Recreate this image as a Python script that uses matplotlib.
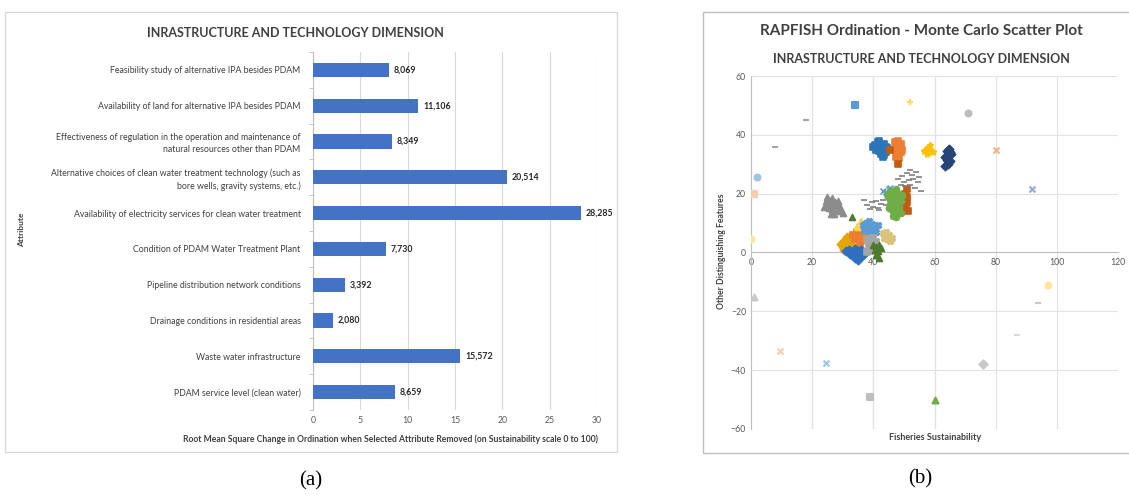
import numpy as np
import matplotlib.pyplot as plt
from matplotlib.patches import Rectangle

plt.rcParams['font.family'] = ['Lato', 'DejaVu Sans']

W, H = 1129, 496

# ---- panel (a) data ----
attributes = [
    "Feasibility study of alternative IPA besides PDAM",
    "Availability of land for alternative IPA besides PDAM",
    "Effectiveness of regulation in the operation and maintenance of\nnatural resources other than PDAM",
    "Alternative choices of clean water treatment technology (such as\nbore wells, gravity systems, etc.)",
    "Availability of electricity services for clean water treatment",
    "Condition of PDAM Water Treatment Plant",
    "Pipeline distribution network conditions",
    "Drainage conditions in residential areas",
    "Waste water infrastructure",
    "PDAM service level (clean water)",
]
rms_change = [8.069, 11.106, 8.349, 20.514, 28.285, 7.730, 3.392, 2.080, 15.572, 8.659]

# ---- panel (b) data: clusters of Monte Carlo runs ----
blue_top_x = [40.5, 41.5, 42.5, 43.5, 44.5, 41, 42, 43, 44, 42.5, 43.5, 43, 44, 42, 41, 40]
blue_top_y = [36.5, 37.5, 36, 37, 35.5, 35, 34.5, 35.5, 34, 33.5, 33, 32.5, 36, 38, 36.2, 35.8]
orange_top_x = [47, 48, 49, 48.5, 47.5, 48, 49.5, 48, 47.5, 48.5, 49, 48, 47]
orange_top_y = [37.5, 38, 37, 36, 35.5, 34.5, 35, 33.5, 32.5, 32, 34, 36.8, 35]
brown_sq_x = [45.6, 48, 51, 50.5, 51, 50.5, 51, 50.5, 50.8, 51.2]
brown_sq_y = [35, 30, 21.5, 20, 19, 18, 17, 16, 15, 14]
gold_top_x = [57, 58, 59, 58, 57.5, 58.5, 59.5, 56.5, 58]
gold_top_y = [35, 36, 35, 34, 33.5, 36.5, 34, 34.5, 35.2]
navy_x = [64, 65, 64.5, 63.5, 64, 65, 64.5, 63.5, 64, 65.5, 64.8]
navy_y = [34.5, 34, 33, 32.5, 31.5, 31, 30, 29.5, 32, 33.5, 35.2]
dash_right_x = [48, 49.5, 51, 52.5, 54, 50, 51.5, 53, 55, 49, 52, 54.5, 50.5, 53.5, 55.5, 52]
dash_right_y = [25, 26, 27, 26.5, 27.5, 24, 24.5, 25, 25.5, 23, 23, 24, 22.5, 22, 21, 28]
dash_left_x = [38, 39.5, 41, 42.5, 40, 41.5, 43, 39, 42, 44, 37]
dash_left_y = [16, 17, 17.5, 16.5, 15.5, 15, 18, 14.8, 14.5, 16, 17.8]
ltblue_top_x = [43, 44, 45, 46, 44.5, 45.5]
ltblue_top_y = [21, 20.5, 21.5, 20, 19.5, 22]
green_x = [44.5, 45.5, 46.5, 47.5, 48.5, 49.5, 45, 46, 47, 48, 49, 45.5, 46.5,
           47.5, 48.5, 46, 47, 48, 46.5, 47.5, 45, 49]
green_y = [20, 21, 20.5, 21.5, 20, 19.5, 18.5, 18, 18.8, 18.2, 17.5, 16.5, 16,
           16.8, 15.5, 14.5, 14, 14.8, 12.5, 12, 15, 13.5]
gray_left_x = [24.5, 25.5, 26.5, 27.5, 28.5, 25, 26, 27, 28, 29, 24, 25.5, 26.5,
               27.5, 28.5, 26, 27, 29.5, 25, 30]
gray_left_y = [17.5, 18, 18.5, 17, 17.5, 16.5, 16, 16.8, 16, 15.5, 15.5, 15, 14.5,
               14, 14.8, 13.2, 13, 14, 18.8, 13.5]
gold_low_x = [29.5, 30.5, 31.5, 32.5, 30, 31, 32, 33, 31.5, 30.5]
gold_low_y = [3, 4, 4.5, 3.5, 2, 2.5, 1.5, 2.5, 5.2, 1]
orange_low_x = [33.5, 34.5, 35.5, 36.5, 34, 35, 36, 37, 35.5]
orange_low_y = [6, 7, 6.5, 7.5, 4.5, 5, 4, 5.5, 3]
yellow_low_x = [34.5, 35.5, 36.5, 35, 36]
yellow_low_y = [9, 10, 9.5, 8.5, 10.8]
ltblue_low_x = [36.5, 37.5, 38.5, 39.5, 40.5, 41.5, 37, 38, 39, 40, 41, 38.5]
ltblue_low_y = [9.5, 10, 9, 9.8, 8.5, 9.2, 7.5, 8, 7, 7.8, 6.8, 10.8]
blue_low_x = [31, 32, 33, 34, 35, 36, 37, 32.5, 33.5, 34.5, 35.5, 36.5, 34, 35]
blue_low_y = [0.5, 1, 0, 1.2, 0.5, 1, 0, -0.5, -1, -0.5, -1.5, -1, -2, -2.4]
gray_low_x = [38, 39, 40, 41, 38.5, 39.5, 40.5, 39, 40, 38, 41]
gray_low_y = [4.5, 4, 4.8, 3.5, 3, 2.5, 2, 1, 0.5, 0, 1.5]
green_low_x = [40, 41, 42, 40.5, 41.5, 42.5, 41, 42, 33]
green_low_y = [2.5, 2, 2.7, 1, 0.5, 1.5, -1, -2, 12.2]
tan_low_x = [43, 44, 45, 46, 43.5, 44.5, 45.5]
tan_low_y = [6.5, 7, 6, 5, 5, 4.5, 4]

# reference / anchor points
anchor_x = [34, 52, 71, 18, 8, 2, 1, 0, 80, 92, 1, 9.5, 24.5, 39, 60, 76, 87, 94, 97]
anchor_y = [50, 51, 47.5, 45, 36, 25.5, 20, 4.5, 35, 21.5, -15, -33.5, -37.5, -49, -50, -38, -28, -17, -11]

cluster_style = [
    (blue_top_x, blue_top_y, '#2E75B6', 's'),
    (orange_top_x, orange_top_y, '#ED7D31', 's'),
    (brown_sq_x, brown_sq_y, '#C55A11', 's'),
    (gold_top_x, gold_top_y, '#FFC000', '*'),
    (navy_x, navy_y, '#264478', 'D'),
    (dash_right_x, dash_right_y, '#7F7F7F', '_'),
    (dash_left_x, dash_left_y, '#7F7F7F', '_'),
    (gray_left_x, gray_left_y, '#8C8C8C', '^'),
    (ltblue_top_x, ltblue_top_y, '#5B9BD5', 'x'),
    (green_x, green_y, '#70AD47', 'o'),
    (gold_low_x, gold_low_y, '#E0A800', 'D'),
    (orange_low_x, orange_low_y, '#ED7D31', 's'),
    (yellow_low_x, yellow_low_y, '#FFD54F', '^'),
    (ltblue_low_x, ltblue_low_y, '#5B9BD5', 'X'),
    (blue_low_x, blue_low_y, '#2F6FC0', 'D'),
    (gray_low_x, gray_low_y, '#A5A5A5', 's'),
    (green_low_x, green_low_y, '#4E7A30', '^'),
    (tan_low_x, tan_low_y, '#D9C27A', 'X'),
]
anchor_style = [('#5B9BD5', 's'), ('#FFD966', '+'), ('#BDBDBD', 'o'), ('#A5A5A5', '_'),
                ('#A5A5A5', '_'), ('#9DC3E6', 'o'), ('#F8CBAD', 's'), ('#FFE699', 'o'),
                ('#F4B183', 'x'), ('#8FAADC', 'x'), ('#C9C9C9', '^'), ('#F8CBAD', 'x'),
                ('#9DC3E6', 'x'), ('#BFBFBF', 's'), ('#70AD47', '^'), ('#C9C9C9', 'D'),
                ('#D9D9D9', '_'), ('#C9C9C9', '_'), ('#FFE699', 'o')]

fig = plt.figure(figsize=(W / 100, H / 100), dpi=100)

# panel frames
fig.patches.append(Rectangle((5 / W, 1 - 452 / H), 612 / W, 440 / H, transform=fig.transFigure,
                             fill=False, edgecolor='#D9D9D9', lw=1))
fig.patches.append(Rectangle((703 / W, 1 - 453 / H), 430 / W, 441 / H, transform=fig.transFigure,
                             fill=False, edgecolor='#BFBFBF', lw=1))

# ---------------- (a) bar chart ----------------
ax1 = fig.add_axes([313 / W, 1 - 410 / H, 284 / W, 358 / H])
ypos = np.arange(len(attributes))
ax1.barh(ypos, rms_change, height=0.4, color='#4472C4', zorder=3)
for y, v in zip(ypos, rms_change):
    ax1.text(v + 0.5, y, f"{v:.3f}".replace('.', ','), va='center', ha='left',
             fontsize=6.3, fontweight='bold', color='#262626')
ax1.set_ylim(len(attributes) - 0.5, -0.5)
ax1.set_xlim(0, 30)
ax1.set_xticks(range(0, 31, 5))
ax1.set_yticks(ypos)
ax1.set_yticklabels(attributes, fontsize=6.3, color='#404040')
ax1.set_yticks(np.arange(-0.5, len(attributes), 1), minor=True)
ax1.tick_params(axis='y', which='major', length=0, pad=9)
ax1.tick_params(axis='y', which='minor', length=3, color='#BFBFBF')
ax1.tick_params(axis='x', length=0, labelsize=6.3, labelcolor='#595959', pad=4)
for lab in ax1.get_yticklabels():
    lab.set_linespacing(1.4)
ax1.grid(axis='x', color='#D9D9D9', lw=0.8, zorder=0)
for s in ['top', 'right', 'bottom']:
    ax1.spines[s].set_visible(False)
ax1.spines['left'].set_color('#BFBFBF')

fig.text(295 / W, 1 - 33 / H, "INRASTRUCTURE AND TECHNOLOGY DIMENSION", ha='center', va='center',
         fontsize=9, fontweight='bold', color='#404040')
fig.text(22 / W, 1 - 230 / H, "Attribute", rotation=90, ha='center', va='center',
         fontsize=6, fontweight='bold', color='#404040')
fig.text(598 / W, 1 - 439 / H,
         "Root Mean Square Change in Ordination when Selected Attribute Removed (on Sustainability scale 0 to 100)",
         ha='right', va='center', fontsize=6.2, fontweight='bold', color='#404040')
fig.text(311 / W, 1 - 481 / H, "(a)", ha='center', va='center', fontsize=15,
         family='Liberation Serif')

# ---------------- (b) scatter ----------------
ax2 = fig.add_axes([751 / W, 1 - 429 / H, 367 / W, 353 / H])
ax2.set_xlim(0, 120)
ax2.set_ylim(-60, 60)
ax2.set_xticks(range(0, 121, 20))
ax2.set_yticks(range(-60, 61, 20))
ax2.grid(True, color='#E3E3E3', lw=0.8, zorder=0)
for gx in [20, 40, 60]:
    ax2.axvline(gx, color='#C4C4C4', lw=0.8, zorder=0)
for s in ['top', 'right']:
    ax2.spines[s].set_visible(False)
ax2.spines['bottom'].set_position(('data', 0))
ax2.spines['bottom'].set_color('#BFBFBF')
ax2.spines['left'].set_color('#BFBFBF')
ax2.tick_params(length=0, labelsize=6.3, labelcolor='#595959')
ax2.tick_params(axis='x', pad=4)

for xs, ys, c, m in cluster_style:
    ax2.scatter(xs, ys, s=18, color=c, marker=m, lw=1.2, zorder=3)
for x, y, (c, m) in zip(anchor_x, anchor_y, anchor_style):
    ax2.scatter([x], [y], s=18, color=c, marker=m, lw=1.5, zorder=3)

fig.text(921 / W, 1 - 31 / H, "RAPFISH Ordination - Monte Carlo Scatter Plot", ha='center', va='center',
         fontsize=11, fontweight='bold', color='#404040')
fig.text(921 / W, 1 - 59 / H, "INRASTRUCTURE AND TECHNOLOGY DIMENSION", ha='center', va='center',
         fontsize=9, fontweight='bold', color='#404040')
fig.text(721 / W, 1 - 251 / H, "Other Distinguishing Features", rotation=90, ha='center', va='center',
         fontsize=6.2, fontweight='bold', color='#404040')
fig.text(935 / W, 1 - 437 / H, "Fisheries Sustainability", ha='center', va='center',
         fontsize=6.5, fontweight='bold', color='#404040')
fig.text(920 / W, 1 - 479 / H, "(b)", ha='center', va='center', fontsize=15,
         family='Liberation Serif')

fig.savefig('out.png', dpi=100)
